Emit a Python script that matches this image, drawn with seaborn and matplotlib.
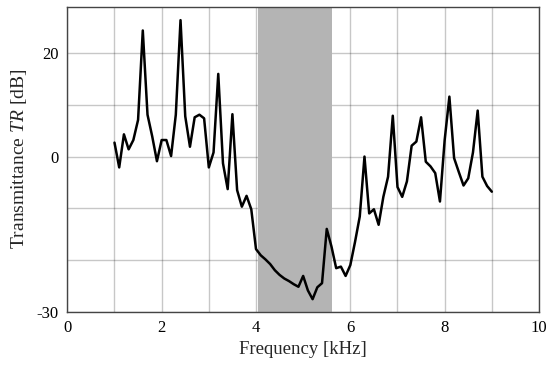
import matplotlib
matplotlib.use("Agg")
import matplotlib.pyplot as plt
import seaborn as sns
import pandas as pd

# Datos
freq_khz = [1.0, 1.1, 1.2, 1.3, 1.4, 1.5, 1.6, 1.7, 1.8, 1.9,
            2.0, 2.1, 2.2, 2.3, 2.4, 2.5, 2.6, 2.7, 2.8, 2.9,
            3.0, 3.1, 3.2, 3.3, 3.4, 3.5, 3.6, 3.7, 3.8, 3.9,
            4.0, 4.1, 4.2, 4.3, 4.4, 4.5, 4.6, 4.7, 4.8, 4.9,
            5.0, 5.1, 5.2, 5.3, 5.4, 5.5, 5.6, 5.7, 5.8, 5.9,
            6.0, 6.1, 6.2, 6.3, 6.4, 6.5, 6.6, 6.7, 6.8, 6.9,
            7.0, 7.1, 7.2, 7.3, 7.4, 7.5, 7.6, 7.7, 7.8, 7.9,
            8.0, 8.1, 8.2, 8.3, 8.4, 8.5, 8.6, 8.7, 8.8, 8.9,
            9.0]
tr_db = [2.7, -2.1, 4.3, 1.4, 3.2, 7.1, 24.4, 8.1, 3.9, -0.9,
         3.2, 3.2, 0.1, 8.1, 26.4, 7.8, 1.9, 7.6, 8.1, 7.4,
         -2.1, 0.8, 16.0, -1.3, -6.3, 8.2, -6.5, -9.7, -7.6, -10.2,
         -17.9, -19.1, -19.9, -20.8, -22.0, -22.9, -23.6, -24.1, -24.7, -25.2,
         -23.1, -25.9, -27.6, -25.3, -24.5, -14.0, -17.4, -21.6, -21.3, -23.1,
         -21.0, -16.5, -11.6, 0.0, -11.0, -10.2, -13.2, -7.8, -3.9, 7.9,
         -5.9, -7.8, -4.8, 2.1, 2.9, 7.6, -1.0, -1.9, -3.2, -8.7,
         3.2, 11.6, -0.3, -3.0, -5.6, -4.2, 0.8, 8.9, -3.9, -5.7,
         -6.8]
band_khz = [4.05, 5.62]

x_ticks = [0, 1, 2, 3, 4, 5, 6, 7, 8, 9, 10]
x_labels = ["0", "", "2", "", "4", "", "6", "", "8", "", "10"]
y_ticks = [-30, -20, -10, 0, 10, 20]
y_labels = ["-30", "", "", "0", "", "20"]

df = pd.DataFrame({"freq": freq_khz, "tr": tr_db})

sns.set_style("white")
plt.rcParams["font.family"] = ["Liberation Serif", "DejaVu Serif"]
plt.rcParams["mathtext.fontset"] = "custom"
plt.rcParams["mathtext.it"] = "Liberation Serif:italic"
plt.rcParams["mathtext.rm"] = "Liberation Serif"

fig = plt.figure(figsize=(5.5, 3.69), dpi=100)
ax = fig.add_axes([0.1224, 0.1556, 0.8576, 0.8262])

# Banda sombreada
ax.axvspan(band_khz[0], band_khz[1], color="#b4b4b4", zorder=1, lw=0)

sns.lineplot(data=df, x="freq", y="tr", color="black", linewidth=1.8, ax=ax, zorder=3)

ax.set_xlim(0, 10)
ax.set_ylim(-30, 29)
ax.set_xticks(x_ticks)
ax.set_xticklabels(x_labels)
ax.set_yticks(y_ticks)
ax.set_yticklabels(y_labels)
# rejilla semitransparente: se ve más oscura sobre la banda gris
ax.grid(True, color="black", alpha=0.22, linewidth=1.0, zorder=2)
for line in ax.get_xgridlines() + ax.get_ygridlines():
    line.set_zorder(2)

ax.tick_params(direction="in", length=3, width=0.8, colors="#333333",
               labelcolor="black", labelsize=12, pad=6)
for s in ax.spines.values():
    s.set_color("#444444")
    s.set_linewidth(1.0)

ax.set_xlabel("Frequency [kHz]", fontsize=13.5, labelpad=4)
ax.set_ylabel("Transmittance $TR$ [dB]", fontsize=14, labelpad=6)

fig.savefig("out.png", dpi=100)
